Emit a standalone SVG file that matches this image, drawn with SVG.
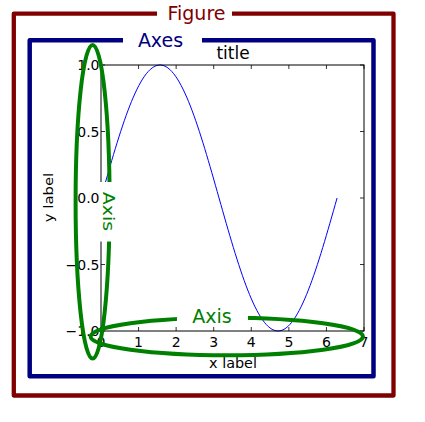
<svg xmlns="http://www.w3.org/2000/svg" width="425" height="422" viewBox="0 0 425 422">
<style>
text{font-family:"DejaVu Sans","Liberation Sans",sans-serif}
.frame{fill:none;stroke-linejoin:round}
.bg{fill:#ffffff;stroke:none}
.tick{stroke:#000;stroke-width:0.8;fill:none}
.tl{font-size:14px;fill:#000}
.ann{fill:none;stroke:#008000;stroke-width:4}
.annt{font-size:19px;fill:#008000}
</style>
<rect width="425" height="422" fill="#fff"/>
<g id="figure">
<rect class="frame" x="13.8" y="13.7" width="379.7" height="381.8" stroke="#800000" stroke-width="4.3"/>
<rect class="bg" x="157" y="4" width="75" height="20"/>
<text x="196.5" y="20" font-size="19" fill="#800000" text-anchor="middle">Figure</text>
</g>
<g id="axes">
<rect class="frame" x="29.7" y="40.3" width="343.8" height="335.9" stroke="#000080" stroke-width="4.5"/>
<rect class="bg" x="123" y="30" width="79" height="20"/>
<text x="160.5" y="46.7" font-size="19" fill="#000080" text-anchor="middle">Axes</text>
</g>
<g id="plot">
<text x="233" y="58.5" font-size="17" text-anchor="middle" fill="#000">title</text>
<path d="M101,198 C120.25,129.86 138.66,65 160.02,65 C181.38,65 199.79,129.86 219.03,198 C238.28,266.14 256.69,331 278.05,331 C299.41,331 317.82,266.14 337.07,198" fill="none" stroke="#0000ff" stroke-width="1"/>
<rect x="101" y="65" width="263" height="266" fill="none" stroke="#000" stroke-width="1"/>
<path class="tick" d="M101,331v-4M138.57,331v-4M176.14,331v-4M213.71,331v-4M251.28,331v-4M288.86,331v-4M326.43,331v-4M364,331v-4M101,65v4M138.57,65v4M176.14,65v4M213.71,65v4M251.28,65v4M288.86,65v4M326.43,65v4M364,65v4M101,65h4M101,131.5h4M101,198h4M101,264.5h4M101,331h4M364,65h-4M364,131.5h-4M364,198h-4M364,264.5h-4M364,331h-4"/>
<g class="tl" text-anchor="end">
<text x="99.5" y="70">1.0</text>
<text x="99.5" y="136.5">0.5</text>
<text x="99.5" y="203">0.0</text>
<text x="99.5" y="269.5">−0.5</text>
<text x="99.5" y="336">−1.0</text>
</g>
<g class="tl" text-anchor="middle">
<text x="101" y="347">0</text>
<text x="138.57" y="347">1</text>
<text x="176.14" y="347">2</text>
<text x="213.71" y="347">3</text>
<text x="251.28" y="347">4</text>
<text x="288.86" y="347">5</text>
<text x="326.43" y="347">6</text>
<text x="364" y="347">7</text>
</g>
<text x="233" y="368" font-size="14.4" text-anchor="middle" fill="#000">x label</text>
<text transform="translate(53.2,197.5) rotate(-90) scale(1.03,0.87)" font-size="14.4" text-anchor="middle" fill="#000">y label</text>
</g>
<g id="yaxis-annotation">
<ellipse class="ann" cx="92.6" cy="201.8" rx="17" ry="156.8"/>
</g>
<g id="xaxis-annotation">
<ellipse class="ann" cx="226.8" cy="336.5" rx="136.2" ry="18.8"/>
<rect class="bg" x="177" y="305" width="71" height="21"/>
<text class="annt" x="212" y="322.7" text-anchor="middle">Axis</text>
</g>
<g id="yaxis-label">
<rect class="bg" x="99.5" y="182" width="17.5" height="59.5"/>
<text class="annt" transform="translate(102.6,211.4) rotate(90) scale(1,0.8)" text-anchor="middle">Axis</text>
</g>
<g id="connectors"/>
</svg>
